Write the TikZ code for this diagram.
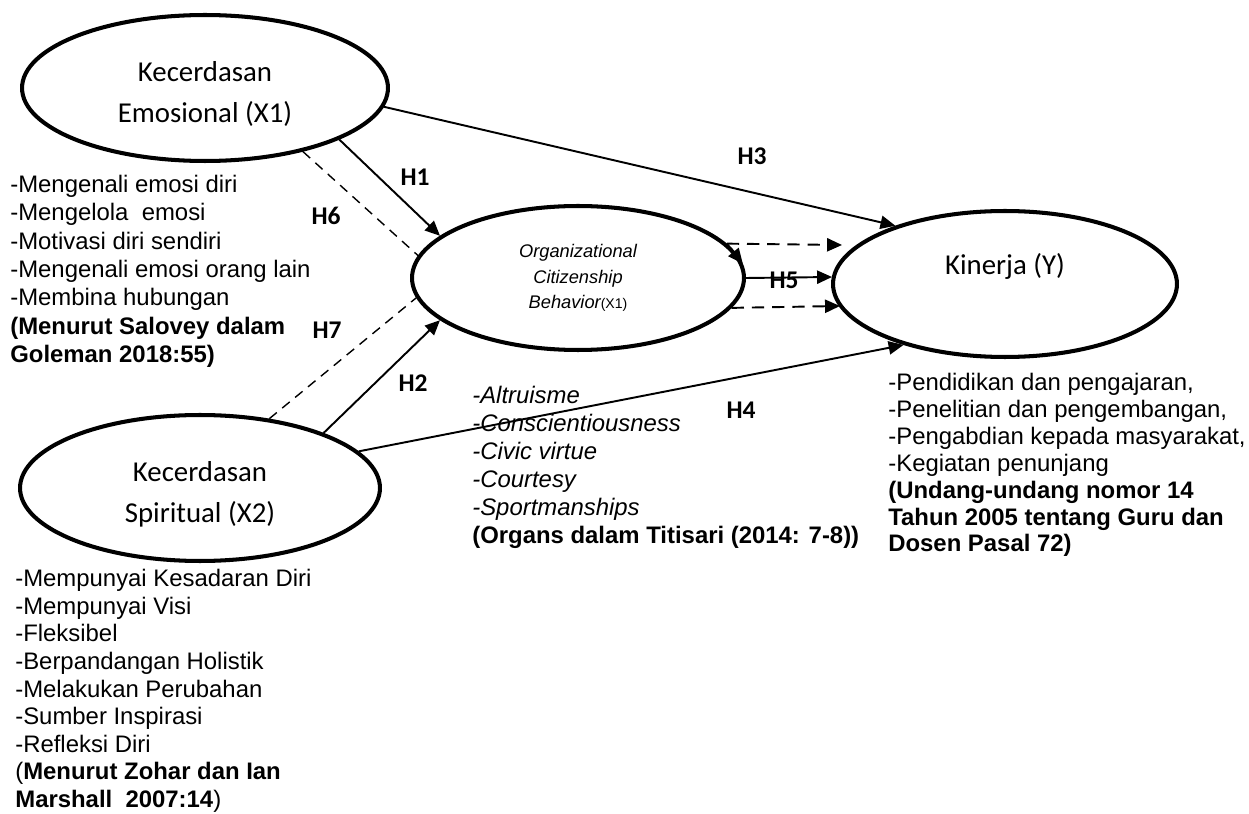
\documentclass[tikz,border=0pt]{standalone}
\usepackage{fontspec}
\setmainfont{Liberation Sans}
\newfontfamily\calibri{Carlito}
\usetikzlibrary{shapes.geometric,arrows.meta}

\begin{document}
\begin{tikzpicture}[x=0.02cm,y=-0.02cm,
	var/.style={ellipse,draw,line width=2.3pt,inner sep=0pt,align=center,font=\calibri\fontsize{16.4}{23.2}\selectfont},
	hyp/.style={font=\calibri\bfseries\fontsize{14.5}{16}\selectfont},
	items/.style={anchor=north west,inner sep=0pt,align=left,font=\fontsize{13.6}{15.9}\selectfont},
	link/.style={line width=1.1pt,-{Triangle[length=8.5pt,width=7.5pt]}},
	med/.style={line width=0.8pt,dash pattern=on 5.5pt off 4pt},
	medlink/.style={link,dash pattern=on 7pt off 4.5pt}]

	\useasboundingbox (0,0) rectangle (1249,814);

	\node[var,minimum width=7.32cm,minimum height=2.92cm] (x1) at (205,88) {\rule{0pt}{18pt}Kecerdasan\\Emosional (X1)};
	\node[var,minimum width=7.2cm,minimum height=2.92cm] (x2) at (200,488) {\rule{0pt}{19pt}Kecerdasan\\Spiritual (X2)};
	\node[var,minimum width=6.64cm,minimum height=2.88cm,font=\fontsize{10.4}{14.5}\selectfont\itshape] (ocb) at (578,278)
		{Organizational\\Citizenship\\Behavior{\upshape\fontsize{8}{9}\selectfont(X1)}};
	\node[var,minimum width=6.88cm,minimum height=2.92cm] (y) at (1005,284) {Kinerja (Y)\\\mbox{}};

	\coordinate (y1) at (842,245);
	\coordinate (y2) at (832,277);
	\coordinate (y3) at (840,306);

	\draw[link] (x1.-21) -- (ocb.163);
	\draw[med] (x1.-33) -- (ocb.172);
	\draw[link] (x1.-6) -- (y.152);
	\draw[med] (x2.45) -- (ocb.187);
	\draw[link] (x2.24) -- (ocb.197);
	\draw[link] (x2.13) -- (y.211);
	\draw[medlink] (ocb.13) -- (y1);
	\draw[link] (ocb.13) -- (ocb.5);
	\draw[link] (ocb.east) -- (y2);
	\draw[medlink] (ocb.-11) -- (y3);

	\node[hyp] (h1) at (415,177) {H1};
	\node[hyp] (h2) at (413,383) {H2};
	\node[hyp] (h3) at (752,156) {H3};
	\node[hyp] (h4) at (741,410) {H4};
	\node[hyp] (h5) at (784,280) {H5};
	\node[hyp] (h6) at (326,216) {H6};
	\node[hyp] (h7) at (327,330) {H7};

	\node[items,font=\fontsize{13.6}{16.1}\selectfont] (ind1) at (10,175) {-Mengenali emosi diri\\-Mengelola\ \ emosi\\-Motivasi diri sendiri\\-Mengenali emosi orang lain\\-Membina hubungan\\
		\textbf{(Menurut Salovey dalam}\\\textbf{Goleman 2018:55)}};
	\node[items,font=\fontsize{13.6}{15.7}\selectfont] (ind2) at (15,569) {-Mempunyai Kesadaran Diri\\-Mempunyai Visi\\-Fleksibel\\-Berpandangan Holistik\\-Melakukan Perubahan\\-Sumber Inspirasi\\-Refleksi Diri\\
		(\textbf{Menurut Zohar dan Ian}\\\textbf{Marshall\ \ 2007:14})};
	\node[items,font=\fontsize{13.6}{15.9}\selectfont\itshape] (ind3) at (472,386) {-Altruisme\\-Conscientiousness\\-Civic virtue\\-Courtesy\\-Sportmanships\\
		\upshape\bfseries (Organs dalam Titisari (2014: 7-8))};
	\node[items,font=\fontsize{13.6}{15.3}\selectfont] (ind4) at (888,373) {-Pendidikan dan pengajaran,\\-Penelitian dan pengembangan,\\-Pengabdian kepada masyarakat,\\-Kegiatan penunjang\\
		\textbf{(Undang-undang nomor 14}\\\textbf{Tahun 2005 tentang Guru dan}\\\textbf{Dosen Pasal 72)}};

\end{tikzpicture}
\end{document}
